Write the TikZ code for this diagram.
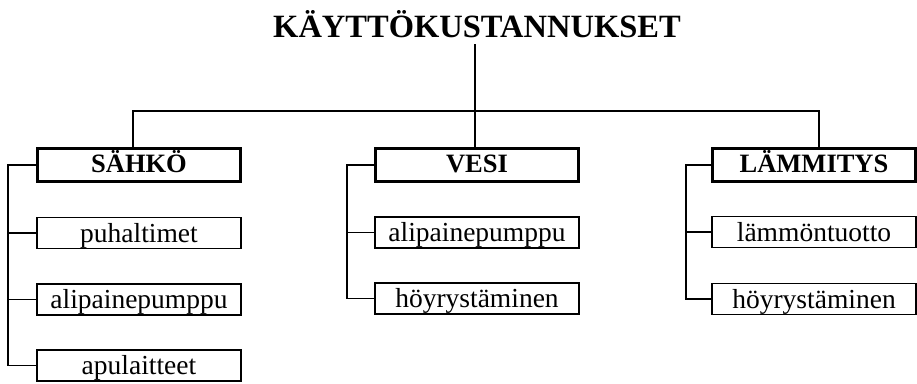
\documentclass[tikz,border=0pt]{standalone}
\usepackage{fontspec}
\setmainfont{Liberation Serif}
\begin{document}
\begin{tikzpicture}[x=1pt,y=-1pt,
  grp/.style={draw, line width=3.6pt, minimum width=203pt, minimum height=33pt, inner sep=0pt, text height=17pt, text depth=3pt, font=\fontsize{26.5}{28}\selectfont\bfseries},
  sub/.style={draw, line width=1.9pt, minimum width=204pt, minimum height=31pt, inner sep=0pt, text height=20pt, text depth=2pt, font=\fontsize{27.5}{30}\selectfont},
  conn/.style={line width=1.5pt}]
\useasboundingbox (0,0) rectangle (917,383);
\node[anchor=base, font=\fontsize{32.5}{36}\selectfont\bfseries, inner sep=0pt] (title) at (477,37) {KÄYTTÖKUSTANNUKSET};
% group boxes
\node[grp] (g1) at (139,165) {SÄHKÖ};
\node[grp] (g2) at (477,165) {VESI};
\node[grp] (g3) at (814,165) {LÄMMITYS};
% sub boxes
\node[sub] (a1) at (139,233) {puhaltimet};
\node[sub] (a2) at (139,299.5) {alipainepumppu};
\node[sub] (a3) at (139,365.5) {apulaitteet};
\node[sub] (b1) at (477,232.5) {alipainepumppu};
\node[sub] (b2) at (477,298.5) {höyrystäminen};
\node[sub] (c1) at (814,232) {lämmöntuotto};
\node[sub] (c2) at (814,299) {höyrystäminen};
% coordinates
\coordinate (top) at (475,44);
\coordinate (bus) at (475,111);
\coordinate (t1) at (133,111);
\coordinate (t3) at (819,111);
\coordinate (k1) at (8,0);
\coordinate (k2) at (347,0);
\coordinate (k3) at (686,0);
% connectors
\draw[conn] (top) -- (bus) -- (bus |- g2.north);
\draw[conn] (t1 |- g1.north) -- (t1) -- (t3) -- (t3 |- g3.north);
\draw[conn] (g1.west) -- (g1.west -| k1) |- (a3.west);
\draw[conn] (a1.west) -- (a1.west -| k1);
\draw[conn] (a2.west) -- (a2.west -| k1);
\draw[conn] (g2.west) -- (g2.west -| k2) |- (b2.west);
\draw[conn] (b1.west) -- (b1.west -| k2);
\draw[conn] (g3.west) -- (g3.west -| k3) |- (c2.west);
\draw[conn] (c1.west) -- (c1.west -| k3);
\end{tikzpicture}
\end{document}
